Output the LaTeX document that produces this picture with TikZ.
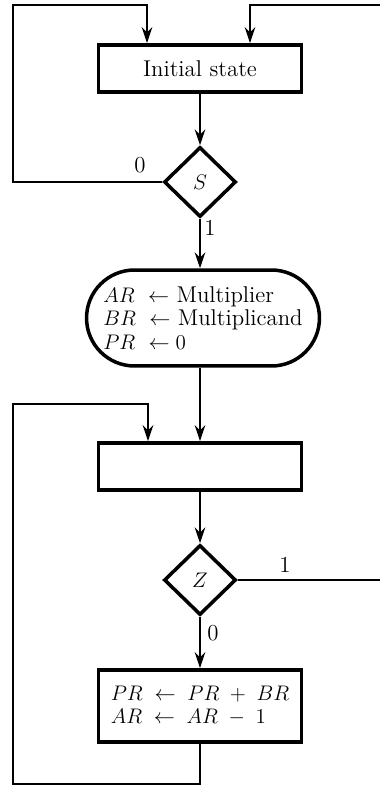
\documentclass[tikz,border=0pt]{standalone}
\usepackage{amsmath}
\usepackage{tikz}
\usepackage{xcolor}
\usetikzlibrary{shapes.geometric,shapes.misc,positioning,arrows.meta}

\begin{document}
\begin{tikzpicture}[
        x=0.02cm, y=-0.02cm,
        font=\fontsize{13}{13.2}\selectfont,
        stepbox/.style={rectangle, draw=black, line width=2.2pt, minimum width=4.06cm, minimum height=0.94cm, align=left},
        loadbox/.style={rounded rectangle, draw=black, line width=2pt, minimum width=4.8cm, minimum height=1.92cm, align=left},
        decision/.style={diamond, draw=black, line width=2pt, minimum width=1.44cm, minimum height=1.4cm, inner sep=0pt},
        flow/.style={line width=1.2pt, -{Stealth[length=9pt,width=6pt]}},
        plain/.style={line width=1.2pt},
        branch/.style={}
    ]
        \useasboundingbox (0,0) rectangle (380,786);

        % Initial state and S test
        \node[stepbox] (init) at (200,68.5) {Initial state};
        \node[decision] (s) at (200,182) {$S$};
        \draw[flow] (init.south) -- (s.north);

        \coordinate (loopA) at (13,5);
        \draw[flow] (s.west) -| (loopA) -| ([xshift=-1.06cm]init.north);
        \node[branch] (szero) at (140,165) {0};

        \coordinate (backin) at (380,5);
        \draw[flow] (backin) -| ([xshift=1cm]init.north);

        % Load registers
        \node[loadbox, inner xsep=2pt] (load) at (203,318) {$AR\ \leftarrow$ Multiplier\\ $BR\ \leftarrow$ Multiplicand\\ $PR\ \leftarrow 0$};
        \draw[flow] (s.south) -- (s.south |- load.north);
        \node[branch] (sone) at (210,228) {1};

        % Empty state and Z test
        \node[stepbox] (count) at (200,466.5) {};
        \draw[flow] (load.south -| count.north) -- (count.north);
        \node[decision] (z) at (200,580) {$Z$};
        \draw[flow] (count.south) -- (z.north);

        \coordinate (out) at (380,580);
        \draw[plain] (z.east) -- (out);
        \node[branch] (zone) at (285,565) {1};

        % Add and decrement
        \node[stepbox, minimum height=1.44cm] (add) at (200,706) {$PR \;\leftarrow\; PR \;+\; BR$\\ $AR \;\leftarrow\; AR \;-\; 1$};
        \draw[flow] (z.south) -- (add.north);
        \node[branch] (zzero) at (213,633) {0};

        \coordinate (loopC) at (13,784);
        \coordinate (loopB) at (13,404);
        \draw[flow] (add.south) |- (loopC) -- (loopB) -| ([xshift=-1.04cm]count.north);
    \end{tikzpicture}
\end{document}
